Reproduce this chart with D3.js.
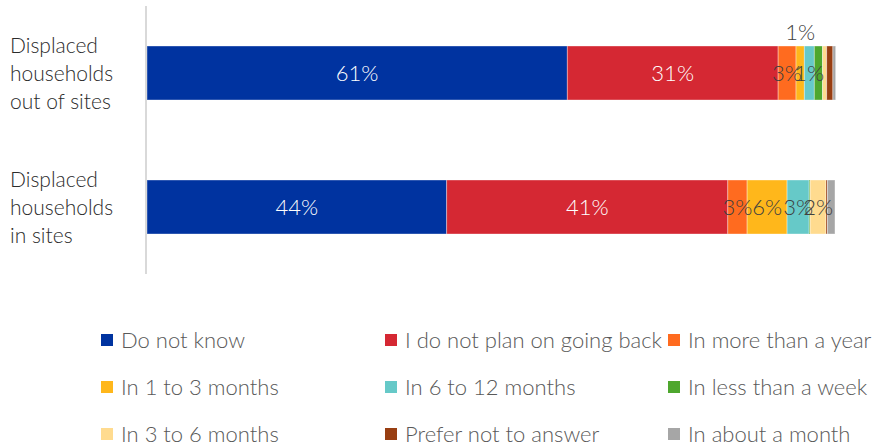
<!DOCTYPE html>
<html>
<head>
<meta charset="utf-8">
<script src="https://cdn.jsdelivr.net/npm/d3@7"></script>
<style>
  body { margin: 0; background: #fff; }
  svg { display: block; font-family: "Gill Sans MT", "Gill Sans", Lato, "Open Sans", sans-serif; font-weight: 300; }
</style>
</head>
<body>
<div id="chartContainer"></div>
<script>
// Categories (rows), each label split over lines
const categories = ["Displaced households out of sites", "Displaced households in sites"];
const categoryLines = [["Displaced", "households", "out of sites"], ["Displaced", "households", "in sites"]];

// Series (stack order, left to right)
const seriesNames = [
    "Do not know", "I do not plan on going back", "In more than a year",
    "In 1 to 3 months", "In 6 to 12 months", "In less than a week",
    "In 3 to 6 months", "Prefer not to answer", "In about a month"
];
const seriesColors = [
    "#0033a0", "#d52833", "#ff6b1f",
    "#ffb71b", "#66c9c8", "#4ea72e",
    "#ffdb8f", "#983e12", "#a6a6a6"
];

// Values in %, one array per category, in series order
const outOfSites = [61, 30.6, 2.6, 1.2, 1.45, 1.2, 0.6, 0.9, 0.4];
const inSites = [43.5, 40.8, 2.8, 5.8, 3.2, 0.15, 2.3, 0.2, 1.1];

// Data labels shown on the chart (null = hidden)
const outOfSitesLabels = ["61%", "31%", "3%", "1%", "1%", null, null, null, null];
const inSitesLabels = ["44%", "41%", "3%", "6%", "3%", null, "2%", null, null];

// Legend order (rows of three)
const legendOrder = [
    "Do not know", "I do not plan on going back", "In more than a year",
    "In 1 to 3 months", "In 6 to 12 months", "In less than a week",
    "In 3 to 6 months", "Prefer not to answer", "In about a month"
];

function createChart() {
    const width = 874;
    const height = 445;

    const values = [outOfSites, inSites];
    const labels = [outOfSitesLabels, inSitesLabels];

    const x = d3.scaleLinear().domain([0, 100]).range([147, 836]);
    const y = d3.scaleBand()
        .domain(categories)
        .range([-34, 314])
        .paddingInner(0.597)
        .paddingOuter(0.597);

    const color = d3.scaleOrdinal().domain(seriesNames).range(seriesColors);

    const svg = d3.create("svg")
        .attr("width", width)
        .attr("height", height)
        .attr("viewBox", `0 0 ${width} ${height}`);

    // build segments
    const segments = [];
    categories.forEach((cat, ci) => {
        let acc = 0;
        seriesNames.forEach((s, si) => {
            const v = values[ci][si];
            segments.push({ cat, ci, series: s, x0: acc, x1: acc + v, label: labels[ci][si] });
            acc += v;
        });
    });

    // Bars
    svg.append("g")
        .selectAll("rect")
        .data(segments)
        .join("rect")
        .attr("x", d => x(d.x0))
        .attr("y", d => y(d.cat))
        .attr("width", d => x(d.x1) - x(d.x0))
        .attr("height", y.bandwidth())
        .attr("fill", d => color(d.series))
        .attr("stroke", "rgba(255,255,255,0.45)")
        .attr("stroke-width", 0.8);

    // Vertical axis line
    svg.append("line")
        .attr("x1", 146).attr("x2", 146)
        .attr("y1", 6).attr("y2", 274)
        .attr("stroke", "#d9d9d9")
        .attr("stroke-width", 2);

    // Data labels
    svg.append("g")
        .style("font-size", "22px")
        .attr("text-anchor", "middle")
        .selectAll("text")
        .data(segments.filter(d => d.label))
        .join("text")
        .attr("x", d => (x(d.x0) + x(d.x1)) / 2)
        .attr("y", d => {
            const w = x(d.x1) - x(d.x0);
            if (w < 9 && d.ci === 0) return y(d.cat) - 6;
            return y(d.cat) + y.bandwidth() / 2 + 8;
        })
        .attr("fill", d => (d.series === "Do not know" || d.series === "I do not plan on going back") ? "#ffffff" : "#404040")
        .text(d => d.label);

    // Category labels
    const cat = svg.append("g")
        .style("font-size", "21px")
        .attr("fill", "#2b2b2b");
    categories.forEach((c, ci) => {
        const t = cat.append("text")
            .attr("x", 10)
            .attr("y", y(c) + 7);
        categoryLines[ci].forEach((line, li) => {
            t.append("tspan")
                .attr("x", 10)
                .attr("dy", li === 0 ? 0 : 28)
                .text(line);
        });
    });

    // Legend
    const colX = [101, 385, 668];
    const rowY = [340, 387, 434];
    const legend = svg.append("g")
        .style("font-size", "22px")
        .selectAll("g")
        .data(legendOrder)
        .join("g")
        .attr("transform", (d, i) => `translate(${colX[i % 3]},${rowY[Math.floor(i / 3)]})`);
    legend.append("rect")
        .attr("x", 0).attr("y", -6)
        .attr("width", 12).attr("height", 12)
        .attr("fill", d => color(d));
    legend.append("text")
        .attr("x", 20).attr("y", 8)
        .attr("fill", "#595959")
        .text(d => d);

    return svg.node();
}

document.getElementById("chartContainer").appendChild(createChart());
</script>
</body>
</html>
